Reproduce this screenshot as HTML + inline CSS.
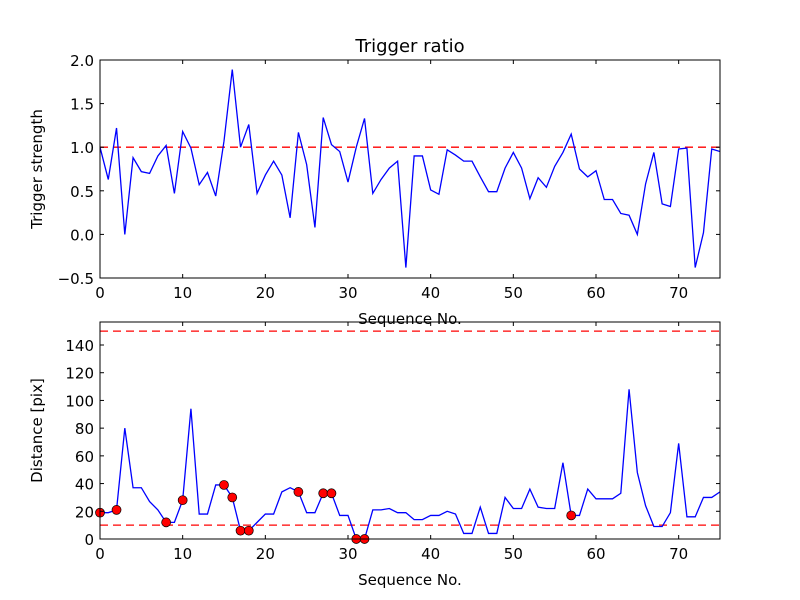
<!DOCTYPE html>
<html><head><meta charset="utf-8"><style>
body{margin:0;background:#fff}
svg{display:block;font-family:"DejaVu Sans","Liberation Sans",sans-serif}
</style></head><body>
<svg id="c" width="800" height="600" viewBox="0 0 800 600"></svg>
<script>
const seq=[];for(let i=0;i<=75;i++)seq.push(i);
const ratio=[1.0,0.63,1.22,0.0,0.88,0.72,0.70,0.90,1.02,0.47,1.18,0.99,0.57,0.71,0.44,1.07,1.89,1.0,1.26,0.47,0.68,0.84,0.68,0.19,1.17,0.80,0.08,1.34,1.03,0.95,0.60,1.0,1.33,0.47,0.63,0.76,0.84,-0.38,0.90,0.90,0.51,0.46,0.97,0.91,0.84,0.84,0.66,0.49,0.49,0.76,0.94,0.76,0.41,0.65,0.54,0.78,0.94,1.15,0.75,0.66,0.73,0.40,0.40,0.24,0.22,0.0,0.58,0.94,0.35,0.32,0.98,0.99,-0.38,0.02,0.98,0.95];
const dist=[19,19,21,80,37,37,27,21,12,12,28,94,18,18,39,39,30,6,6,12,18,18,34,37,34,19,19,33,33,17,17,0,0,21,21,22,19,19,14,14,17,17,20,18,4,4,23,4,4,30,22,22,36,23,22,22,55,17,17,36,29,29,29,33,108,48,24,9,9,19,69,16,16,30,30,34];
const flagged=[0,2,8,10,15,16,17,18,24,27,28,31,32,57];
const xTicks=[0,10,20,30,40,50,60,70];
const topTicks=[-0.5,0.0,0.5,1.0,1.5,2.0];
const botTicks=[0,20,40,60,80,100,120,140];
const ratioThresh=[1.0];
const distThresh=[10,150];

const svg=document.getElementById('c');const NS='http://www.w3.org/2000/svg';
function mk(t,a,p){const e=document.createElementNS(NS,t);for(const k in a)e.setAttribute(k,a[k]);(p||svg).appendChild(e);return e;}
function panel(top,bot,ymin,ymax,vals,yt,fmt,thr,ylabel,title,name){
  const L=100,R=720;
  const sx=v=>L+(v-0)/(75-0)*(R-L);
  const sy=v=>bot-(v-ymin)/(ymax-ymin)*(bot-top);
  const g=mk('g',{});
  
  
  const cp=mk('clipPath',{id:'cp'+name},g);mk('rect',{x:L,y:top,width:R-L,height:bot-top},cp);
  thr.forEach(t=>{const l=mk('line',{x1:L,x2:R,y1:sy(t),y2:sy(t),stroke:'#f00','stroke-width':1.3,'stroke-dasharray':'8,5'},g);
    
    });
  const pl=mk('polyline',{points:vals.map((v,i)=>sx(seq[i])+','+sy(v)).join(' '),fill:'none',stroke:'#00f','stroke-width':1.3,'clip-path':'url(#cp'+name+')'},g);
  
  
  return {g,sx,sy,L,R,top,bot,finish(){
    mk('rect',{x:L,y:top,width:R-L,height:bot-top,fill:'none',stroke:'#000','stroke-width':1},g);
    xTicks.forEach(t=>{const x=sx(t);mk('line',{x1:x,x2:x,y1:bot,y2:bot-4,stroke:'#000'},g);mk('line',{x1:x,x2:x,y1:top,y2:top+4,stroke:'#000'},g);
      const tx=mk('text',{x:x,y:bot+20,'text-anchor':'middle','font-size':15},g);tx.textContent=t;
      
      });
    yt.forEach(t=>{const y=sy(t);mk('line',{x1:L,x2:L+4,y1:y,y2:y,stroke:'#000'},g);mk('line',{x1:R,x2:R-4,y1:y,y2:y,stroke:'#000'},g);
      const tx=mk('text',{x:L-6,y:y+6,'text-anchor':'end','font-size':15},g);tx.textContent=fmt(t);
      
      });
    const xl=mk('text',{x:(L+R)/2,y:bot+46,'text-anchor':'middle','font-size':15},g);xl.textContent='Sequence No.';
    
    
    const cy=(top+bot)/2;
    const yl=mk('text',{x:42,y:cy,'text-anchor':'middle','font-size':15,transform:'rotate(-90 42 '+cy+')'},g);yl.textContent=ylabel;
    
    
    if(title){const tt=mk('text',{x:(L+R)/2,y:top-8,'text-anchor':'middle','font-size':18},g);tt.textContent=title;
      
      }
  }};
}
const p1=panel(60,278,-0.5,2.0,ratio,topTicks,t=>t.toFixed(1).replace('-','\u2212'),ratioThresh,'Trigger strength','Trigger ratio','trigger-ratio-panel');
p1.finish();
const p2=panel(322,539,0,156.6,dist,botTicks,t=>String(t),distThresh,'Distance [pix]',null,'distance-panel');
flagged.forEach(i=>{const c=mk('circle',{cx:p2.sx(seq[i]),cy:p2.sy(dist[i]),r:4.5,fill:'#f00',stroke:'#000','stroke-width':0.7},p2.g);
  
  });
p2.finish();
</script>
</body></html>
